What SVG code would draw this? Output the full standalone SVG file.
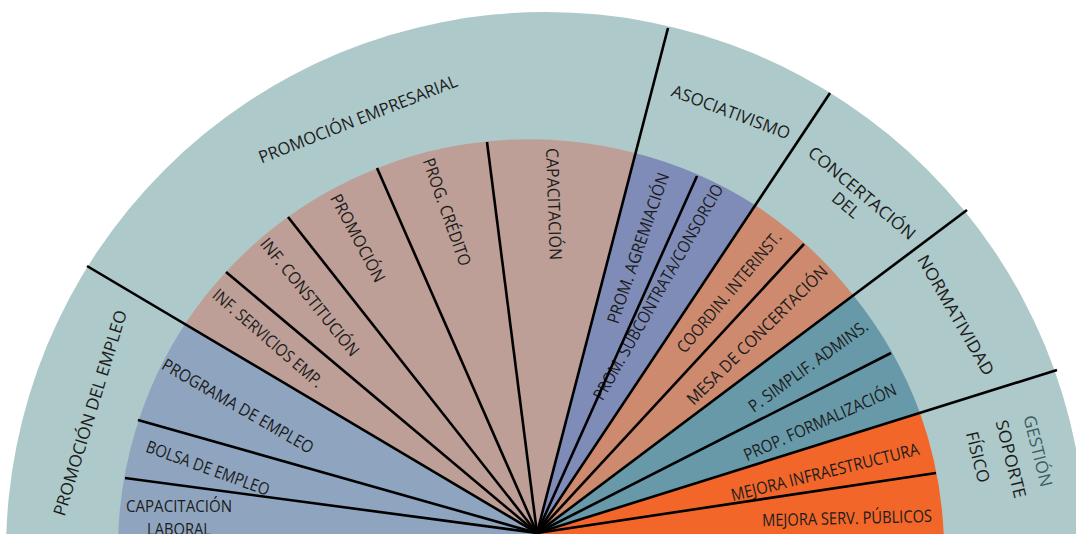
<svg xmlns="http://www.w3.org/2000/svg" width="1076" height="534" viewBox="0 0 1076 534">
<style>
.t{font-family:"Open Sans","Liberation Sans",sans-serif;font-size:17px;fill:#1c1c1c;text-anchor:middle}
.ln{stroke:#000;stroke-width:2.6;fill:none;stroke-linecap:butt}
.ring{fill:#adc9c9}
.blue{fill:#8fa5bf}
.rose{fill:#bd9f97}
.purple{fill:#7f8cb8}
.salmon{fill:#cd8a6e}
.dteal{fill:#6799a8}
.orange{fill:#f2662a}
</style>
<rect width="1076" height="534" fill="#fff"/>
<circle class="ring" cx="546" cy="552" r="540"/>

<g id="promocion-del-empleo">
<path class="blue" d="M537,545 L118,545 A413,413 0 0 1 185,324 L537,533 Z"/>
<text class="t" x="90" y="413" dy="0.36em" transform="rotate(-73 90 413)" textLength="214" lengthAdjust="spacingAndGlyphs">PROMOCIÓN DEL EMPLEO</text>
<text class="t" x="238" y="406" dy="0.36em" transform="rotate(30 238 406)" textLength="172" lengthAdjust="spacingAndGlyphs">PROGRAMA DE EMPLEO</text>
<text class="t" x="208" y="468" dy="0.36em" transform="rotate(20 208 468)" textLength="130" lengthAdjust="spacingAndGlyphs">BOLSA DE EMPLEO</text>
<text class="t" x="179" y="505.5" dy="0.36em" textLength="106" lengthAdjust="spacingAndGlyphs">CAPACITACIÓN</text>
<text class="t" x="179" y="528.5" dy="0.36em" textLength="64" lengthAdjust="spacingAndGlyphs">LABORAL</text>
</g>

<g id="promocion-empresarial">
<path class="rose" d="M537,533 L185,324 A413,413 0 0 1 635,153 Z"/>
<text class="t" x="358" y="119" dy="0.36em" transform="rotate(-21.5 358 119)" textLength="212" lengthAdjust="spacingAndGlyphs">PROMOCIÓN EMPRESARIAL</text>
<text class="t" x="268" y="338" dy="0.36em" transform="rotate(41 268 338)" textLength="140" lengthAdjust="spacingAndGlyphs">INF. SERVICIOS EMP.</text>
<text class="t" x="310" y="297" dy="0.36em" transform="rotate(51 310 297)" textLength="146" lengthAdjust="spacingAndGlyphs">INF. CONSTITUCIÓN</text>
<text class="t" x="358" y="238" dy="0.36em" transform="rotate(62 358 238)" textLength="97" lengthAdjust="spacingAndGlyphs">PROMOCIÓN</text>
<text class="t" x="447" y="212" dy="0.36em" transform="rotate(70.5 447 212)" textLength="113" lengthAdjust="spacingAndGlyphs">PROG. CRÉDITO</text>
<text class="t" x="554" y="204" dy="0.36em" transform="rotate(88 554 204)" textLength="112" lengthAdjust="spacingAndGlyphs">CAPACITACIÓN</text>
</g>

<g id="asociativismo">
<path class="purple" d="M537,533 L635,153 A413,413 0 0 1 755,205 Z"/>
<text class="t" x="731" y="112" dy="0.36em" transform="rotate(20.5 731 112)" textLength="125" lengthAdjust="spacingAndGlyphs">ASOCIATIVISMO</text>
<text class="t" x="638" y="248" dy="0.36em" transform="rotate(-71 638 248)" textLength="158" lengthAdjust="spacingAndGlyphs">PROM. AGREMIACIÓN</text>
<text class="t" x="658" y="292" dy="0.36em" transform="rotate(-60.4 658 292)" textLength="245" lengthAdjust="spacingAndGlyphs">PROM. SUBCONTRATA/CONSORCIO</text>
</g>

<g id="concertacion">
<path class="salmon" d="M537,533 L755,205 A413,413 0 0 1 853,295 Z"/>
<text class="t" x="862" y="193" dy="0.36em" transform="rotate(40 862 193)" textLength="134" lengthAdjust="spacingAndGlyphs">CONCERTACIÓN</text>
<text class="t" x="846" y="205" dy="0.36em" transform="rotate(40 846 205)" textLength="30" lengthAdjust="spacingAndGlyphs">DEL</text>
<text class="t" x="729" y="292" dy="0.36em" transform="rotate(-50 729 292)" textLength="152" lengthAdjust="spacingAndGlyphs">COORDIN. INTERINST.</text>
<text class="t" x="757" y="335" dy="0.36em" transform="rotate(-44.6 757 335)" textLength="190" lengthAdjust="spacingAndGlyphs">MESA DE CONCERTACIÓN</text>
</g>

<g id="normatividad">
<path class="dteal" d="M537,533 L853,295 A413,413 0 0 1 920,413 Z"/>
<text class="t" x="956" y="315" dy="0.36em" transform="rotate(60 956 315)" textLength="136" lengthAdjust="spacingAndGlyphs">NORMATIVIDAD</text>
<text class="t" x="808" y="366" dy="0.36em" transform="rotate(-36 808 366)" textLength="143" lengthAdjust="spacingAndGlyphs">P. SIMPLIF. ADMINS.</text>
<text class="t" x="820" y="422" dy="0.36em" transform="rotate(-24 820 422)" textLength="165" lengthAdjust="spacingAndGlyphs">PROP. FORMALIZACIÓN</text>
</g>

<g id="gestion-soporte-fisico">
<path class="orange" d="M537,533 L920,413 A413,413 0 0 1 944,545 L537,545 Z"/>
<text class="t" x="1038" y="451" dy="0.36em" transform="rotate(76 1038 451)" textLength="73" lengthAdjust="spacingAndGlyphs" style="fill:#3d5f63">GESTIÓN</text>
<text class="t" x="1011" y="459" dy="0.36em" transform="rotate(76 1011 459)" textLength="80" lengthAdjust="spacingAndGlyphs">SOPORTE</text>
<text class="t" x="978" y="457" dy="0.36em" transform="rotate(76 978 457)" textLength="52" lengthAdjust="spacingAndGlyphs">FÍSICO</text>
<text class="t" x="825" y="472" dy="0.36em" transform="rotate(-14 825 472)" textLength="193" lengthAdjust="spacingAndGlyphs">MEJORA INFRAESTRUCTURA</text>
<text class="t" x="847" y="518" dy="0.36em" transform="rotate(-1.5 847 518)" textLength="170" lengthAdjust="spacingAndGlyphs">MEJORA SERV. PÚBLICOS</text>
</g>

<g id="connectors">
<line class="ln" x1="537" y1="533" x2="87" y2="266"/>
<line class="ln" x1="537" y1="533" x2="668" y2="28"/>
<line class="ln" x1="537" y1="533" x2="830" y2="93"/>
<line class="ln" x1="537" y1="533" x2="967" y2="210"/>
<line class="ln" x1="537" y1="533" x2="1057" y2="370"/>
<line class="ln" x1="537" y1="533" x2="138" y2="420"/>
<line class="ln" x1="537" y1="533" x2="125" y2="478"/>
<line class="ln" x1="537" y1="533" x2="226" y2="272"/>
<line class="ln" x1="537" y1="533" x2="288" y2="217"/>
<line class="ln" x1="537" y1="533" x2="377" y2="168"/>
<line class="ln" x1="537" y1="533" x2="487" y2="142"/>
<line class="ln" x1="537" y1="533" x2="697" y2="176"/>
<line class="ln" x1="537" y1="533" x2="804" y2="244"/>
<line class="ln" x1="537" y1="533" x2="891" y2="353"/>
<line class="ln" x1="537" y1="533" x2="936" y2="473"/>
</g>
</svg>
